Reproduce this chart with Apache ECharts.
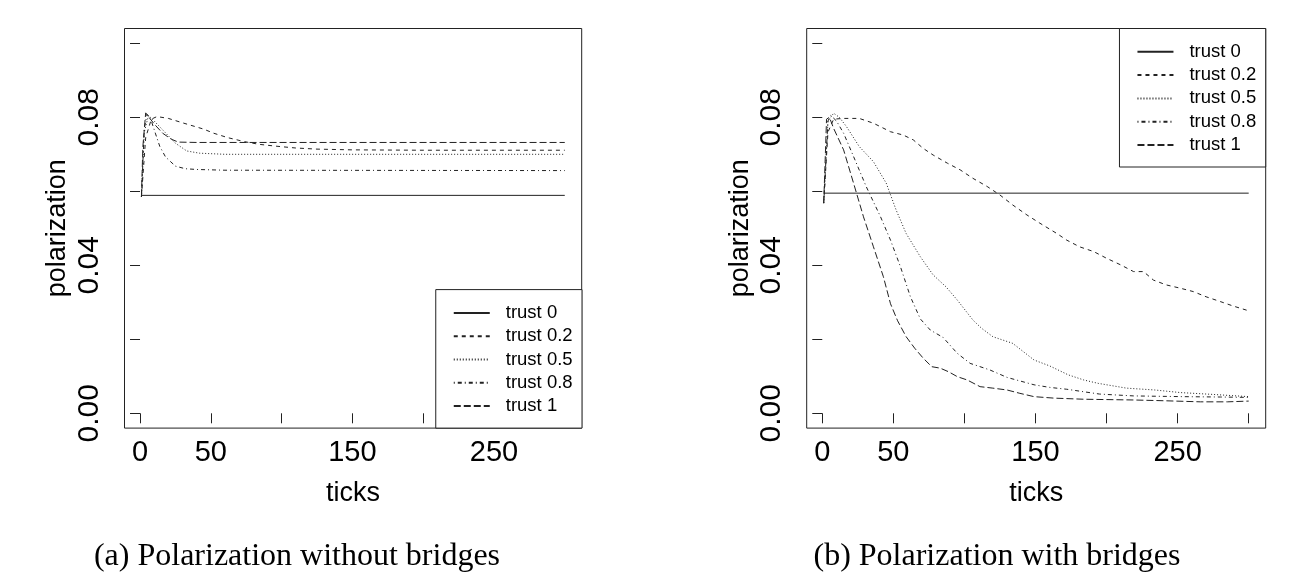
<!DOCTYPE html>
<html>
<head>
<meta charset="utf-8">
<title>Polarization with and without bridges</title>
<script src="https://cdn.jsdelivr.net/npm/echarts@6/dist/echarts.min.js"></script>
<style>
  html, body { margin: 0; padding: 0; background: #fff; }
  #chart { width: 1295px; height: 579px; }
</style>
</head>
<body>
<div id="chart"></div>
<script>
// legend names, same order in both panels
const trustNames = ['trust 0', 'trust 0.2', 'trust 0.5', 'trust 0.8', 'trust 1'];

// (a) without bridges, [tick, polarization]
const noBridge0 = [[1, 0.0589], [300, 0.0589]];
const noBridge02 = [[1, 0.0585], [4, 0.0745], [8, 0.0795], [12, 0.0802], [20, 0.0797], [31, 0.0784], [45, 0.0768],
  [52, 0.0757], [62, 0.0745], [74, 0.0734], [84, 0.0727], [96, 0.0722], [110, 0.0717], [125, 0.0714],
  [150, 0.0712], [200, 0.0711], [300, 0.0711]];
const noBridge05 = [[1, 0.0585], [3, 0.0760], [6, 0.0805], [10, 0.0790], [16, 0.0766], [25, 0.0730], [33, 0.0709],
  [42, 0.0703], [60, 0.0700], [300, 0.0700]];
const noBridge08 = [[1, 0.0585], [3, 0.0770], [5, 0.0808], [8, 0.0790], [11, 0.0755], [14, 0.0721], [18, 0.0693],
  [25, 0.0668], [32, 0.0661], [40, 0.0659], [60, 0.0657], [300, 0.0656]];
const noBridge1 = [[1, 0.0585], [2, 0.0720], [4, 0.0812], [6, 0.0802], [10, 0.0782], [16, 0.0757], [22, 0.0741],
  [27, 0.0733], [40, 0.0732], [300, 0.0732]];

// (b) with bridges
const bridge0 = [[1, 0.0595], [300, 0.0595]];
const bridge02 = [[1, 0.0568], [4, 0.0760], [8, 0.0795], [15, 0.0797], [26, 0.0797], [36, 0.0784], [48, 0.0761],
  [57, 0.0752], [64, 0.0739], [71, 0.0716], [78, 0.0698], [88, 0.0676], [97, 0.0658], [106, 0.0635],
  [116, 0.0613], [125, 0.0590], [134, 0.0563], [144, 0.0536], [153, 0.0514], [165, 0.0486], [172, 0.0468],
  [181, 0.0450], [191, 0.0437], [200, 0.0419], [210, 0.0401], [219, 0.0383], [226, 0.0383], [233, 0.0360],
  [242, 0.0347], [252, 0.0338], [261, 0.0329], [270, 0.0315], [280, 0.0302], [289, 0.0290], [300, 0.0277]];
const bridge05 = [[1, 0.0568], [4, 0.0790], [8, 0.0811], [12, 0.0800], [17, 0.0775], [26, 0.0721], [36, 0.0680],
  [45, 0.0622], [52, 0.0549], [59, 0.0486], [69, 0.0423], [78, 0.0374], [87, 0.0342], [95, 0.0306],
  [106, 0.0252], [112, 0.0230], [120, 0.0207], [134, 0.0189], [149, 0.0144], [160, 0.0128], [173, 0.0104],
  [184, 0.0090], [194, 0.0081], [214, 0.0068], [234, 0.0063], [252, 0.0056], [275, 0.0051], [300, 0.0045]];
const bridge08 = [[1, 0.0568], [4, 0.0790], [6, 0.0805], [10, 0.0790], [15, 0.0757], [22, 0.0694], [31, 0.0612],
  [41, 0.0531], [48, 0.0468], [55, 0.0396], [62, 0.0315], [69, 0.0255], [76, 0.0225], [85, 0.0205],
  [95, 0.0162], [104, 0.0135], [118, 0.0117], [130, 0.0097], [149, 0.0077], [160, 0.0070], [172, 0.0065],
  [195, 0.0052], [219, 0.0047], [254, 0.0045], [280, 0.0044], [300, 0.0043]];
const bridge1 = [[1, 0.0568], [3, 0.0795], [5, 0.0800], [8, 0.0770], [15, 0.0712], [22, 0.0622], [29, 0.0531],
  [36, 0.0450], [43, 0.0369], [48, 0.0296], [53, 0.0250], [59, 0.0207], [65, 0.0176], [71, 0.0149],
  [77, 0.0126], [83, 0.0122], [89, 0.0112], [95, 0.0099], [102, 0.0090], [111, 0.0072], [120, 0.0068],
  [130, 0.0063], [139, 0.0054], [149, 0.0045], [163, 0.0041], [184, 0.0038], [219, 0.0036], [240, 0.0034],
  [266, 0.0031], [285, 0.0031], [300, 0.0033]];

// ticks / labels on the axes
const xTickValues = [0, 50, 100, 150, 200, 250, 300];
const xLabelValues = [0, 50, 150, 250];
const yTickValues = [0, 0.02, 0.04, 0.06, 0.08, 0.10];
const yLabelValues = [0, 0.04, 0.08];
const captions = ['(a) Polarization without bridges', '(b) Polarization with bridges'];

const panels = [
  [noBridge0, noBridge02, noBridge05, noBridge08, noBridge1],
  [bridge0, bridge02, bridge05, bridge08, bridge1]
];

// R style lty: solid, dashed, dotted, dotdash, longdash
const dashes = ['solid', [4, 4], [1, 2], [1, 3, 4, 3], [7, 3]];
const ink = '#222';
const sans = 'Liberation Sans, Arial, Helvetica, sans-serif';

const gridLeft = [124.5, 806.7];
const gridWidth = [457.2, 459];

let chart = echarts.init(document.getElementById('chart'), null, {renderer: 'canvas'});

let grids = [], xAxes = [], yAxes = [], series = [];
for (let p = 0; p < 2; p++) {
  grids.push({
    left: gridLeft[p], top: 28.5, width: gridWidth[p], height: 399.6,
    show: true, borderColor: ink, borderWidth: 1, backgroundColor: 'transparent',
    containLabel: false, outerBoundsMode: 'none'
  });
  xAxes.push({
    gridIndex: p, type: 'value', min: -10.96, max: 311.96,
    axisLine: {show: false},
    axisTick: {show: true, inside: false, length: 10, customValues: xTickValues, lineStyle: {color: ink}},
    axisLabel: {show: true, customValues: xLabelValues, margin: 10, fontSize: 29, fontFamily: sans, color: '#000'},
    splitLine: {show: false},
    name: 'ticks', nameLocation: 'middle', nameGap: 52,
    nameTextStyle: {fontSize: 27, fontFamily: sans, color: '#000'}
  });
  yAxes.push({
    gridIndex: p, type: 'value', min: -0.004, max: 0.104,
    axisLine: {show: false},
    axisTick: {show: true, inside: false, length: 10, customValues: yTickValues, lineStyle: {color: ink}},
    axisLabel: {
      show: true, customValues: yLabelValues, rotate: 90, margin: 20,
      fontSize: 30, fontFamily: sans, color: '#000',
      formatter: v => v.toFixed(2)
    },
    splitLine: {show: false},
    name: 'polarization', nameLocation: 'middle', nameGap: 53, nameRotate: 90,
    nameTextStyle: {fontSize: 27, fontFamily: sans, color: '#000'}
  });
  panels[p].forEach((data, i) => {
    series.push({
      name: trustNames[i], type: 'line', xAxisIndex: p, yAxisIndex: p,
      data: data, symbol: 'none', silent: true,
      itemStyle: {color: ink},
      lineStyle: {color: ink, width: 1, type: dashes[i]}
    });
  });
}

const legendBase = {
  data: trustNames, orient: 'vertical', selectedMode: false,
  itemWidth: 36, itemHeight: 20, itemGap: 3.3,
  padding: [13.3, 9.4, 12, 17],
  borderColor: ink, borderWidth: 1, backgroundColor: '#fff',
  // hide the marker dot, keep only the line sample
  itemStyle: {color: 'transparent', borderWidth: 0, opacity: 0},
  textStyle: {fontSize: 18.5, fontFamily: sans, color: '#000', lineHeight: 20, padding: [0, 0, 0, 11]}
};

chart.setOption({
  animation: false,
  backgroundColor: '#fff',
  grid: grids,
  xAxis: xAxes,
  yAxis: yAxes,
  legend: [
    Object.assign({right: 713, bottom: 150.9}, legendBase),
    Object.assign({right: 29.3, top: 28.5}, legendBase)
  ],
  graphic: captions.map((c, i) => ({
    type: 'text', x: [297, 997][i], y: 557,
    style: {text: c, fontSize: 32, fontFamily: 'Liberation Serif, Times New Roman, serif', fill: '#000',
      align: 'center', verticalAlign: 'middle'}
  })),
  series: series
});
</script>
</body>
</html>
